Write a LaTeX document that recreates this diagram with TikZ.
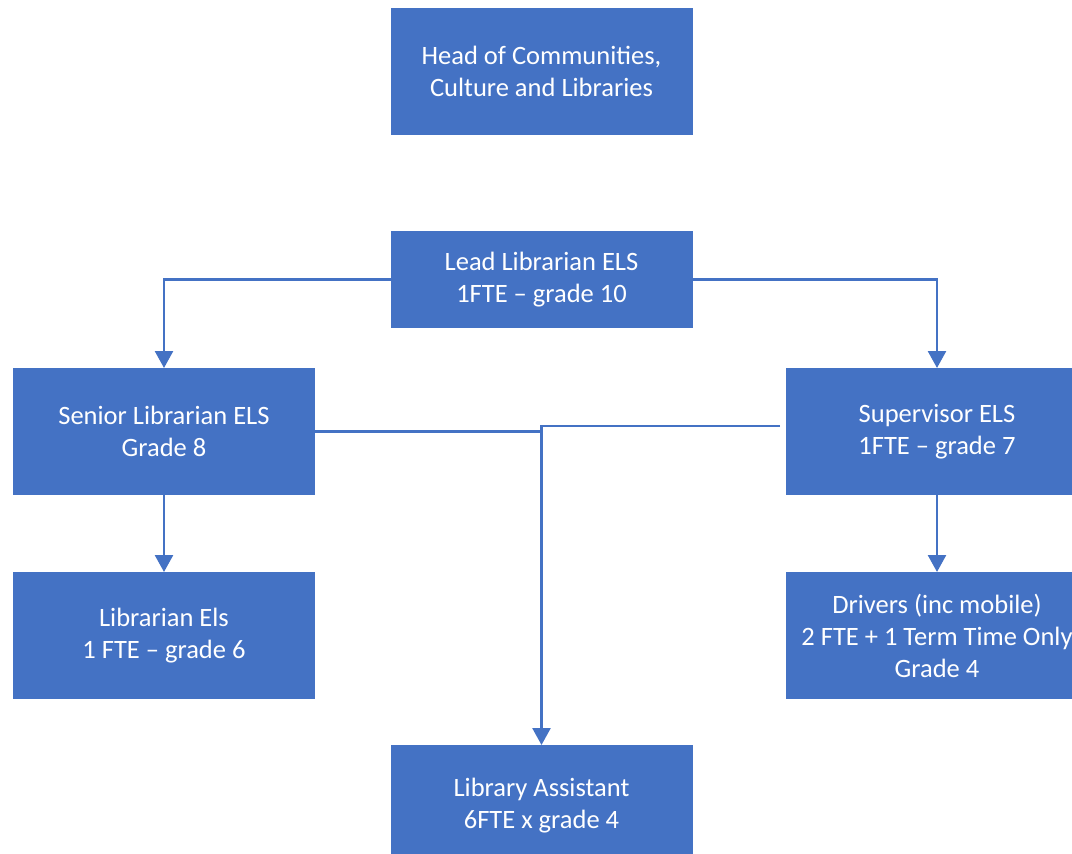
\documentclass[tikz,border=0pt]{standalone}
\usepackage{fontspec}
\setmainfont{Carlito}
\usetikzlibrary{arrows.meta}
\definecolor{boxblue}{HTML}{4472C4}
\begin{document}
\begin{tikzpicture}[x=1pt,y=-1pt,
  box/.style={fill=boxblue, text=white, minimum width=302pt, minimum height=127pt, inner sep=0pt, outer sep=0pt, align=center, font=\fontsize{26.5}{32}\selectfont},
  link/.style={draw=boxblue, line width=2.6pt},
  arr/.style={link, -{Triangle[width=18pt,length=17pt]}}]
\useasboundingbox (0,0) rectangle (1072,854);
\clip (0,0) rectangle (1072,854);
\node[box] (head) at (541.5,71.5) {Head of Communities,\\Culture and Libraries};
\node[box, minimum height=97pt] (lead) at (541.5,279.5) {Lead Librarian ELS\\1FTE -- grade 10};
\node[box] (senior) at (164,431.5) {Senior Librarian ELS\\Grade 8};
\node[box] (sup) at (937,431.5) {Supervisor ELS\\1FTE -- grade 7};
\node[box] (lib) at (164,635.5) {Librarian Els\\1 FTE -- grade 6};
\node[box] (drivers) at (937,635.5) {Drivers (inc mobile)\\2 FTE + 1 Term Time Only\\Grade 4};
\node[box, minimum height=127pt] (asst) at (541.5,808.5) {\raisebox{31pt}{\begin{tabular}{@{}c@{}}Library Assistant\\6FTE x grade 4\end{tabular}}};
\coordinate (c1) at (780,426);
\draw[arr] (lead.west) -| (senior.north);
\draw[arr] (lead.east) -| (sup.north);
\draw[arr] (senior.south) -- (lib.north);
\draw[arr] (sup.south) -- (drivers.north);
\draw[link] (senior.east) -- (senior.east -| asst.north);
\draw[arr] (c1) -| (asst.north);
\end{tikzpicture}
\end{document}
